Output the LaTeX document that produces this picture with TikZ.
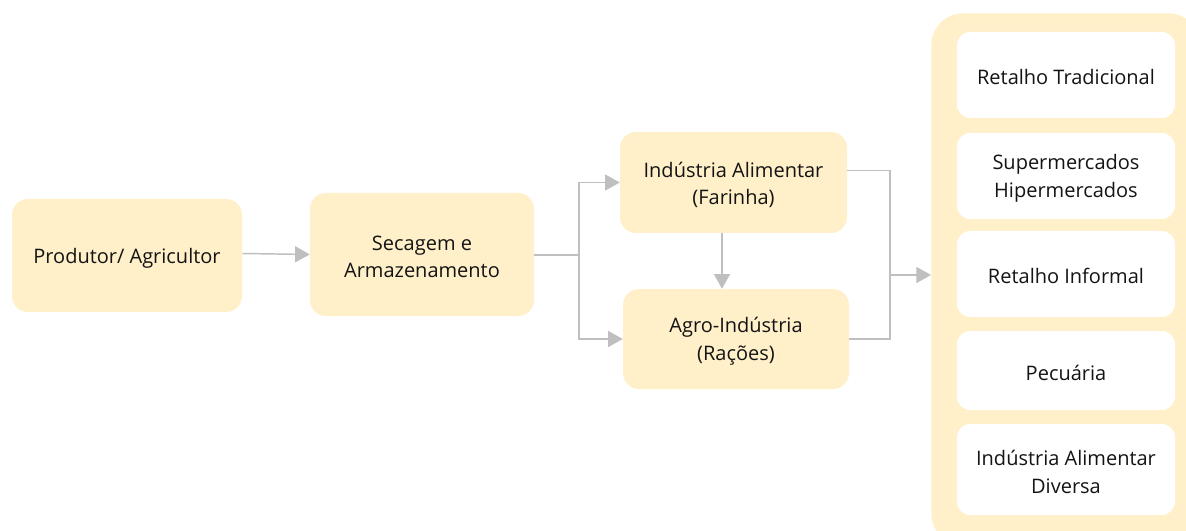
\documentclass[tikz,border=0pt]{standalone}
\usepackage{fontspec}
\setmainfont{Open Sans}
\usetikzlibrary{arrows.meta,calc}
\definecolor{boxfill}{HTML}{FFF0C9}
\definecolor{linegray}{HTML}{BFBFBF}
\definecolor{txt}{HTML}{141414}
\newcommand{\lwr}[1]{\raisebox{-1.8pt}[\height][\depth]{#1}}
\begin{document}
\begin{tikzpicture}[x=0.75pt,y=-0.75pt,
  every node/.style={font=\fontsize{15}{20.5}\selectfont, text=txt, align=center, inner sep=0pt},
  stage/.style={rectangle, rounded corners=12pt, fill=boxfill, draw=none},
  outlet/.style={rectangle, rounded corners=10pt, fill=white, draw=none, minimum width=163.5pt},
  conn/.style={draw=linegray, line width=1.1pt, -{Triangle[length=11pt,width=12pt]}},
  plain/.style={draw=linegray, line width=1.1pt}
]
\useasboundingbox (0,0) rectangle (1186,531);
\clip (0,0) rectangle (1186,531);
\fill[white] (0,0) rectangle (1186,531);
% panel
\node[stage, rounded corners=24pt, minimum width=201.75pt, minimum height=399pt, anchor=north west] (panel) at (931,13) {};
% outlets
\node[outlet, minimum height=64.5pt] (o1) at (1066,75) {\lwr{Retalho Tradicional}};
\node[outlet, minimum height=64.5pt] (o2) at (1066,176) {\lwr{Supermercados}\\\lwr{Hipermercados}};
\node[outlet, minimum height=64.5pt] (o3) at (1066,274) {\lwr{Retalho Informal}};
\node[outlet, minimum height=59.25pt] (o4) at (1066,370.5) {\lwr{Pecuária}};
\node[outlet, minimum height=68.25pt] (o5) at (1066,469.5) {\lwr{Indústria Alimentar}\\\lwr{Diversa}};
% stages
\node[stage, minimum width=172.5pt, minimum height=84.75pt] (prod) at (127,255.5) {\lwr{Produtor/ Agricultor}};
\node[stage, minimum width=168pt, minimum height=92.25pt] (sec) at (422,254.5) {\lwr{Secagem e}\\\lwr{Armazenamento}};
\node[stage, minimum width=170.25pt, minimum height=75.75pt] (ind) at (733.5,182.5) {\lwr{Indústria Alimentar}\\\lwr{(Farinha)}};
\node[stage, minimum width=169.5pt, minimum height=75pt] (agro) at (736,339) {\lwr{Agro-Indústria}\\\lwr{(Rações)}};
% connectors
\draw[conn] ([yshift=1.5pt]prod.east) -- (sec.west);
\coordinate (split) at (579,255);
\draw[plain] (sec.east |- split) -- (split);
\draw[conn] (split) |- (ind.west);
\draw[conn] (split) |- (agro.west);
\draw[conn] (ind.south -| 722,0) -- (agro.north -| 722,0);
\coordinate (merge) at (890,275);
\draw[plain] ([yshift=9pt]ind.east) -| (merge);
\draw[plain] (agro.east) -| (merge);
\draw[conn] (merge) -- (panel.west |- merge);
\end{tikzpicture}
\end{document}
